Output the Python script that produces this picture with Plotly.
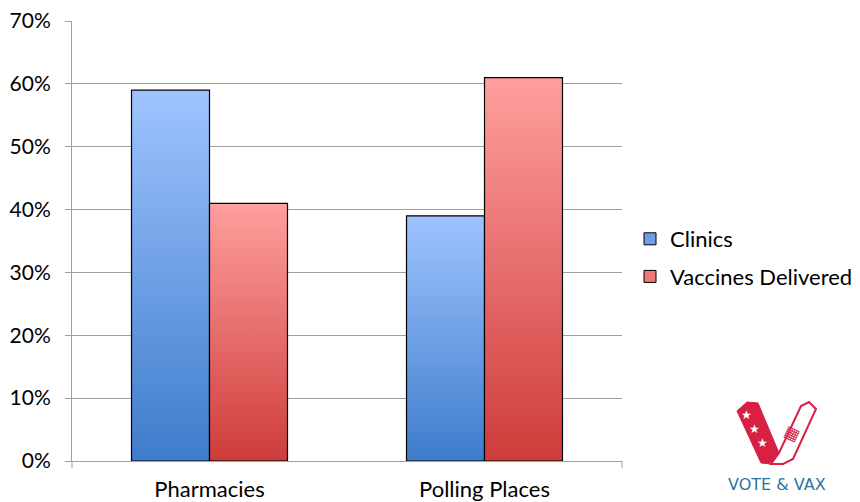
import plotly.graph_objects as go

categories = ["Pharmacies", "Polling Places"]
clinics = [0.59, 0.39]
vaccines = [0.41, 0.61]
series_names = ["Clinics", "Vaccines Delivered"]
y_ticks = [0, 0.1, 0.2, 0.3, 0.4, 0.5, 0.6, 0.7]

FONT = "Lato"
BAR_W = 0.2836
blue_scale = [[0, "#3E7CCB"], [1, "#9EC4FF"]]
red_scale = [[0, "#CD3C3A"], [1, "#FF9F9E"]]

fig = go.Figure()

def add_bar(x0, x1, h, scale):
    fig.add_trace(go.Scatter(
        x=[x0, x0, x1, x1, x0], y=[0, h, h, 0, 0],
        mode="lines", fill="toself",
        fillgradient=dict(type="vertical", colorscale=scale, start=0, stop=h),
        line=dict(color="black", width=1.2),
        showlegend=False, hoverinfo="skip"))

for i, cat in enumerate(categories):
    add_bar(i - BAR_W, i, clinics[i], blue_scale)
    add_bar(i, i + BAR_W, vaccines[i], red_scale)

# legend entries
fig.add_trace(go.Bar(x=[None], y=[None], name=series_names[0], legendgroup="a",
                     marker=dict(color="#6E9FE6", line=dict(color="black", width=1))))
fig.add_trace(go.Bar(x=[None], y=[None], name=series_names[1], legendgroup="b",
                     marker=dict(color="#EE7877", line=dict(color="black", width=1))))

# page body has an 8px margin: lay the figure out 8px smaller
OFF = 8
W, H = 860 - OFF, 502 - OFF
L, T = 72 - OFF, 21 - OFF
R, B = W - (622 - OFF), H - (461 - OFF)
pw, ph = W - L - R, H - T - B

def px(x):
    return (x - OFF - L) / pw

def py(y):
    return (H + OFF - B - y) / ph

shapes = []
# end tick marks on x axis
for xx in (72, 622):
    shapes.append(dict(type="line", xref="paper", yref="paper",
                       x0=px(xx), x1=px(xx), y0=0, y1=py(468),
                       line=dict(color="#A0A0A0", width=1)))

def path(points):
    return "M " + " L ".join(f"{px(a):.5f},{py(b):.5f}" for a, b in points) + " Z"

# logo: left red strip and right white strip
shapes.append(dict(type="path", xref="paper", yref="paper",
                   path=path([(737, 411), (747, 402), (758, 403), (779, 453), (771, 464), (761, 463)]),
                   fillcolor="#D81F44", line=dict(color="#D81F44", width=1)))
shapes.append(dict(type="path", xref="paper", yref="paper",
                   path=path([(771, 464), (779, 453), (801, 406), (809, 402), (816, 409), (793, 459), (783, 464)]),
                   fillcolor="white", line=dict(color="#D81F44", width=2)))

annotations = [
    dict(text="VOTE &amp; VAX", xref="paper", yref="paper", x=px(777), y=py(485),
         showarrow=False, font=dict(family="DejaVu Sans", size=16, color="#2A73A0"),
         xanchor="center", yanchor="middle"),
]
for sx, sy in [(746, 414), (754, 428), (762, 442)]:
    annotations.append(dict(text="★", xref="paper", yref="paper", x=px(sx), y=py(sy),
                            showarrow=False, font=dict(size=12, color="white"),
                            xanchor="center", yanchor="middle"))
annotations.append(dict(text="▦", xref="paper", yref="paper", x=px(792), y=py(432),
                        showarrow=False, font=dict(size=16, color="#D81F44"),
                        xanchor="center", yanchor="middle", textangle=25))

fig.update_layout(
    width=W, height=H,
    margin=dict(l=L, r=R, t=T, b=B, autoexpand=False),
    paper_bgcolor="white", plot_bgcolor="white",
    font=dict(family=FONT, size=22, color="black"),
    xaxis=dict(range=[-0.5, 1.5], tickvals=list(range(len(categories))), ticktext=categories,
               showgrid=False, zeroline=False, showline=True, linecolor="#A0A0A0", linewidth=1,
               ticks="", ticklabelstandoff=9, fixedrange=True, automargin=False,
               ticklabeloverflow="allow"),
    yaxis=dict(range=[0, 0.7], tickvals=y_ticks, tickformat=".0%", showgrid=True,
               gridcolor="#A0A0A0", gridwidth=1, zeroline=False, showline=True,
               linecolor="#A0A0A0", linewidth=1, ticks="outside", ticklen=6,
               tickcolor="#A0A0A0", ticklabelstandoff=10, fixedrange=True, automargin=False,
               ticklabeloverflow="allow", tickfont=dict(size=21)),
    legend=dict(x=px(630), y=py(258), xanchor="left", yanchor="middle",
                font=dict(family=FONT, size=22), tracegroupgap=6, bgcolor="rgba(0,0,0,0)"),
    shapes=shapes, annotations=annotations, showlegend=True,
)

fig.write_html("out.html")
